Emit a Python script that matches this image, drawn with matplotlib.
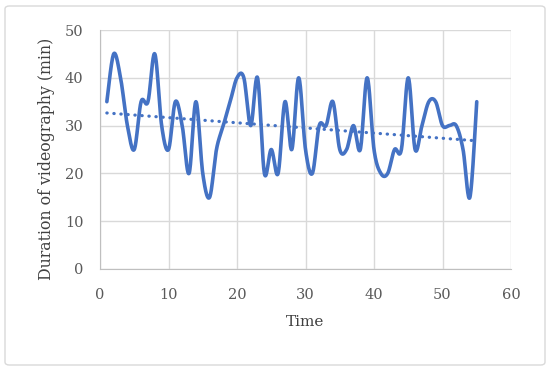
import numpy as np
import matplotlib
matplotlib.use("Agg")
import matplotlib.pyplot as plt
from matplotlib.patches import FancyBboxPatch

plt.rcParams['font.family'] = ['DejaVu Serif', 'Liberation Serif']

# data
time = list(range(1, 56))
duration = [35, 45, 40, 30, 25, 35, 35, 45, 30, 25,
            35, 30, 20, 35, 20, 15, 25, 30, 35, 40,
            40, 30, 40, 20, 25, 20, 35, 25, 40, 25,
            20, 30, 30, 35, 25, 25, 30, 25, 40, 25,
            20, 20, 25, 25, 40, 25, 30, 35, 35, 30,
            30, 30, 25, 15, 35]
x_ticks = [0, 10, 20, 30, 40, 50, 60]
y_ticks = [0, 10, 20, 30, 40, 50]

blue = "#4472C4"


def smooth(x, y, n=20):
    # catmull-rom spline through the points, like Excel's smoothed line
    x = np.asarray(x, float)
    y = np.asarray(y, float)
    px = np.concatenate([[x[0]], x, [x[-1]]])
    py = np.concatenate([[y[0]], y, [y[-1]]])
    xs, ys = [], []
    t = np.linspace(0, 1, n, endpoint=False)
    for i in range(1, len(px) - 2):
        p0, p1, p2, p3 = [np.array([px[j], py[j]]) for j in range(i - 1, i + 3)]
        c1 = p1 + (p2 - p0) / 6
        c2 = p2 - (p3 - p1) / 6
        b = ((1 - t) ** 3)[:, None] * p1 + (3 * (1 - t) ** 2 * t)[:, None] * c1 \
            + (3 * (1 - t) * t ** 2)[:, None] * c2 + (t ** 3)[:, None] * p2
        xs.extend(b[:, 0])
        ys.extend(b[:, 1])
    xs.append(x[-1])
    ys.append(y[-1])
    return np.array(xs), np.array(ys)


fig = plt.figure(figsize=(5.5, 3.7), dpi=100)
ax = fig.add_axes([100 / 550, 1 - 269 / 370, 411 / 550, 239 / 370])

frame = FancyBboxPatch((5 / 550, 5 / 370), 540 / 550, 359 / 370,
                       boxstyle="round,pad=0,rounding_size=0.008",
                       transform=fig.transFigure, fill=False,
                       edgecolor="#d9d9d9", linewidth=1.0)
fig.patches.append(frame)

sx, sy = smooth(time, duration)
ax.plot(sx, sy, color=blue, linewidth=2.6, solid_capstyle="round", zorder=3)

# linear trendline
k, b0 = np.polyfit(time, duration, 1)
tx = np.array([time[0], time[-1]])
ax.plot(tx, k * tx + b0, color=blue, linewidth=2.3, linestyle=(0, (0.1, 2.1)),
        dash_capstyle="round", zorder=2)

ax.set_xlim(0, 60)
ax.set_ylim(0, 50)
ax.set_xticks(x_ticks)
ax.set_yticks(y_ticks)
ax.grid(True, color="#d9d9d9", linewidth=1.0)
ax.set_axisbelow(True)
for s in ["top", "right"]:
    ax.spines[s].set_visible(False)
for s in ["left", "bottom"]:
    ax.spines[s].set_color("#bfbfbf")
ax.tick_params(axis="y", length=0, labelsize=10.5, labelcolor="#595959", pad=12)
ax.tick_params(axis="x", length=0, labelsize=10.5, labelcolor="#595959", pad=14)
ax.set_xlabel("Time", fontsize=11, color="#404040", labelpad=9)
ax.set_ylabel("Duration of videography (min)", fontsize=11.3, color="#404040")
ax.yaxis.set_label_coords(-45 / 411, 0.46)

fig.savefig("out.png", dpi=100)
